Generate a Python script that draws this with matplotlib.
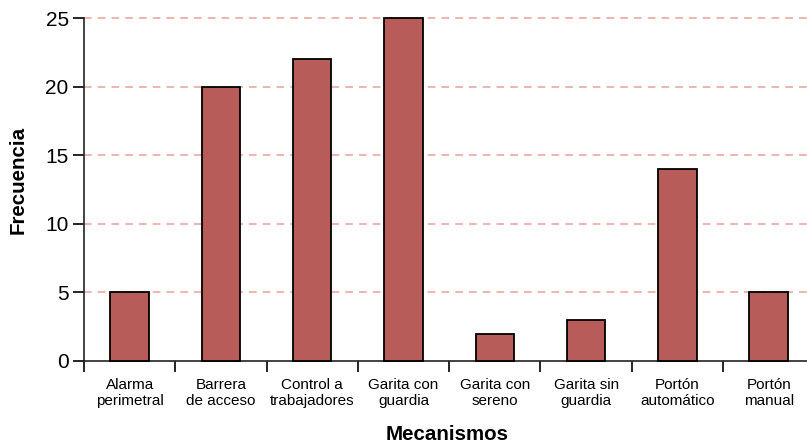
import matplotlib
matplotlib.use("Agg")
import matplotlib.pyplot as plt
import numpy as np

categories = ["Alarma\nperimetral", "Barrera\nde acceso", "Control a\ntrabajadores",
              "Garita con\nguardia", "Garita con\nsereno", "Garita sin\nguardia",
              "Portón\nautomático", "Portón\nmanual"]
frecuencia = [5, 20, 22, 25, 2, 3, 14, 5]
y_ticks = [0, 5, 10, 15, 20, 25]

plt.rcParams["font.family"] = ["Liberation Sans", "DejaVu Sans"]

fig = plt.figure(figsize=(8.07, 4.43), dpi=100)
ax = fig.add_axes([84 / 807, 82 / 443, 1 - 84 / 807, 343 / 443])

x = np.arange(len(categories))
ax.bar(x, frecuencia, width=0.42, color="#b85c5a", edgecolor="black", linewidth=1.3,
       zorder=3, clip_on=False)

for y in y_ticks[1:]:
    ax.axhline(y, color="#e8a09a", linestyle=(0, (5, 4)), linewidth=1.1, zorder=1, clip_on=False)

ax.set_xlim(-0.5, 7.42)
ax.set_ylim(0, 25)

ax.set_xticks(np.arange(-0.5, len(categories) - 0.5, 1.0))
ax.set_xticklabels([])
ax.set_xticks(x, minor=True)
ax.set_xticklabels(categories, minor=True, fontsize=11, linespacing=1.2)
ax.tick_params(axis="x", which="major", length=8, width=1.2, direction="out")
ax.tick_params(axis="x", which="minor", length=0, pad=12)

ax.set_yticks(y_ticks)
ax.set_yticklabels([str(v) for v in y_ticks], fontsize=15)
ax.tick_params(axis="y", length=8, width=1.2, pad=3)

for side in ["top", "right"]:
    ax.spines[side].set_visible(False)
for side in ["left", "bottom"]:
    ax.spines[side].set_linewidth(1.2)
    ax.spines[side].set_color("#222222")

fig.text(447 / 807, 1 - 434 / 443, "Mecanismos", fontsize=14.8, fontweight="bold",
         ha="center", va="center")
fig.text(18 / 807, 1 - 180 / 443, "Frecuencia", fontsize=14.8, fontweight="bold",
         ha="center", va="center", rotation=90)

fig.savefig("out.png", dpi=100)
